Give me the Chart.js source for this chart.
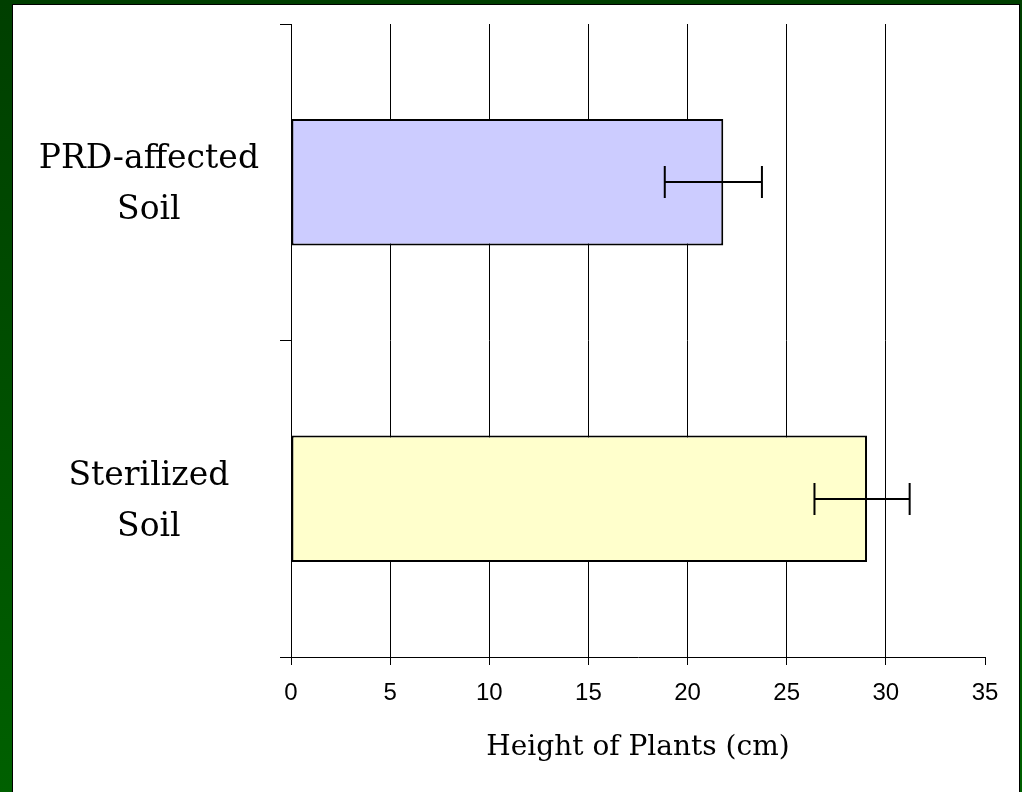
<!DOCTYPE html>
<html>
<head>
<meta charset="utf-8">
<script src="https://cdn.jsdelivr.net/npm/chart.js@4"></script>
<style>
  html, body { margin: 0; padding: 0; }
  body { width: 1022px; height: 792px; overflow: hidden; position: relative;
         background: linear-gradient(#003f00, #006000); }
  #panel { position: absolute; left: 12px; top: 4px; width: 1006px; height: 800px;
           background: #fff; border: 1px solid #000; }
  #wrap { position: absolute; left: 0; top: 0; width: 1022px; height: 792px; }
</style>
</head>
<body>
<div id="panel"></div>
<div id="wrap"><canvas id="c" width="1022" height="792"></canvas></div>
<script>
const categories = [["PRD-affected", "Soil"], ["Sterilized", "Soil"]];
const heights = [21.8, 29.05];
const errLow = [18.85, 26.4];
const errHigh = [23.75, 31.2];
const barColors = ["#CCCCFF", "#FFFFCC"];
const xTicks = [0, 5, 10, 15, 20, 25, 30, 35];
const xTitle = "Height of Plants (cm)";

const errorBars = {
  id: "errorBars",
  afterDatasetsDraw(chart) {
    const ctx = chart.ctx;
    const xs = chart.scales.x;
    const meta = chart.getDatasetMeta(0);
    ctx.save();
    ctx.strokeStyle = "#000";
    ctx.lineWidth = 2;
    meta.data.forEach((bar, i) => {
      const y = Math.round(bar.y);
      const x1 = xs.getPixelForValue(errLow[i]);
      const x2 = xs.getPixelForValue(errHigh[i]);
      const h = 16;
      ctx.beginPath();
      ctx.moveTo(x1, y); ctx.lineTo(x2, y);
      ctx.moveTo(x1, y - h); ctx.lineTo(x1, y + h);
      ctx.moveTo(x2, y - h); ctx.lineTo(x2, y + h);
      ctx.stroke();
    });
    ctx.restore();
  }
};

new Chart(document.getElementById("c"), {
  type: "bar",
  data: {
    labels: categories,
    datasets: [{
      data: heights,
      backgroundColor: barColors,
      borderColor: "#000",
      borderWidth: 2,
      borderSkipped: false,
      barPercentage: 0.4,
      categoryPercentage: 1.0
    }]
  },
  options: {
    indexAxis: "y",
    responsive: false,
    animation: false,
    devicePixelRatio: 1,
    layout: { padding: { left: 20, top: 24, right: 37, bottom: 0 } },
    plugins: { legend: { display: false }, tooltip: { enabled: false } },
    scales: {
      x: {
        min: 0, max: 35,
        afterFit(s) { s.height = 135; s.paddingLeft = 0; s.paddingRight = 0; },
        afterBuildTicks(s) { s.ticks = xTicks.map(v => ({ value: v })); },
        grid: {
          color: c => (c.tick && c.tick.value === 35) ? "rgba(0,0,0,0)" : "#000",
          tickColor: "#000",
          lineWidth: 1,
          tickLength: 8
        },
        border: { display: true, color: "#000", width: 1 },
        ticks: {
          color: "#000",
          padding: 14,
          font: { family: "Liberation Sans", size: 24 },
          maxRotation: 0
        },
        title: {
          display: true,
          text: xTitle,
          color: "#000",
          font: { family: "DejaVu Serif", size: 28 },
          padding: { top: 0, bottom: 27 }
        }
      },
      y: {
        afterFit(s) { s.width = 271; s.paddingTop = 0; s.paddingBottom = 0; },
        grid: {
          drawOnChartArea: false,
          color: "#000",
          tickLength: 11,
          offset: true
        },
        border: { display: true, color: "#000", width: 1 },
        ticks: {
          color: "#000",
          crossAlign: "center",
          padding: 21,
          labelOffset: 3,
          font: { family: "DejaVu Serif", size: 33, lineHeight: 1.55 }
        }
      }
    }
  },
  plugins: [errorBars]
});
</script>
</body>
</html>
